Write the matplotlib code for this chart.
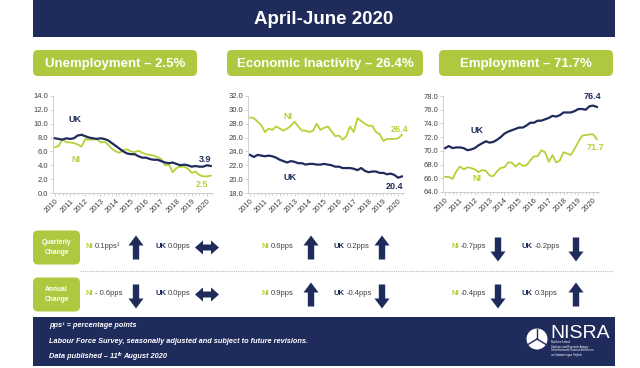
"""NISRA labour market infographic, April-June 2020."""

import matplotlib

matplotlib.use("Agg")
import matplotlib.pyplot as plt
from matplotlib.patches import FancyBboxPatch, Polygon, Rectangle, Circle

plt.rcParams["font.family"] = ["Liberation Sans", "DejaVu Sans"]

NAVY = "#1e2b5b"
GREEN = "#aec940"
LINE_GREEN = "#b4d236"
GREY = "#404040"

years = [str(y) for y in range(2010, 2021)]

unemp_uk = [7.9, 7.8, 7.7, 7.9, 7.8, 7.9, 8.3, 8.4, 8.2, 8.0, 7.9, 7.8,
            7.9, 7.8, 7.6, 7.2, 6.8, 6.4, 6.0, 5.7, 5.6, 5.6, 5.3, 5.1,
            5.1, 4.9, 4.8, 4.8, 4.6, 4.4, 4.3, 4.4, 4.2, 4.0, 4.1, 4.0,
            3.8, 3.9, 3.8, 3.8, 4.0, 3.9]
unemp_ni = [6.6, 6.8, 7.8, 7.3, 7.3, 7.2, 7.0, 6.7, 7.8, 7.7, 7.7, 7.8,
            7.3, 7.4, 7.0, 6.4, 6.0, 5.8, 6.2, 6.3, 6.0, 5.9, 6.1, 5.8,
            5.6, 5.5, 5.4, 5.2, 4.9, 4.0, 4.1, 3.0, 3.6, 3.8, 3.8, 3.5,
            2.9, 3.1, 2.6, 2.4, 2.4, 2.5]
inact_uk = [23.5, 23.2, 23.5, 23.4, 23.3, 23.4, 23.3, 23.1, 22.8, 22.6, 22.4, 22.6,
            22.5, 22.3, 22.3, 22.1, 22.2, 22.2, 22.1, 22.1, 22.2, 22.1, 22.0, 21.8,
            21.8, 21.6, 21.6, 21.6, 21.5, 21.3, 21.6, 21.2, 21.0, 21.1, 21.1, 20.9,
            20.9, 20.7, 20.8, 20.6, 20.2, 20.4]
inact_ni = [28.9, 28.8, 28.3, 27.8, 26.8, 27.3, 27.1, 27.6, 27.3, 27.0, 27.3, 27.7,
            28.3, 27.6, 27.0, 27.0, 26.8, 27.0, 28.0, 27.1, 27.4, 27.6, 26.9, 26.2,
            26.3, 25.7, 26.2, 27.6, 26.8, 28.8, 28.4, 28.0, 27.7, 27.7, 26.8, 26.5,
            25.5, 25.8, 25.8, 25.8, 25.9, 26.4]
emp_uk = [70.4, 70.7, 70.4, 70.5, 70.5, 70.4, 70.1, 70.2, 70.4, 70.8, 71.1, 71.4,
          71.2, 71.3, 71.6, 72.0, 72.5, 72.8, 73.0, 73.2, 73.4, 73.4, 73.7, 74.1,
          74.1, 74.4, 74.4, 74.6, 74.8, 75.1, 75.0, 75.2, 75.6, 75.6, 75.6, 75.8,
          76.1, 76.1, 76.0, 76.5, 76.6, 76.4]
emp_ni = [66.2, 66.2, 65.9, 67.0, 67.7, 67.3, 67.6, 67.5, 67.3, 66.9, 67.2, 67.1,
          66.4, 66.3, 67.0, 67.5, 67.6, 68.3, 68.3, 67.7, 68.2, 67.8, 67.9, 68.6,
          69.2, 69.2, 70.1, 69.8, 68.4, 69.4, 68.3, 68.6, 69.8, 69.6, 69.4, 70.3,
          71.3, 72.2, 72.3, 72.4, 72.4, 71.7]

headlines = ["Unemployment \u2013 2.5%", "Economic Inactivity \u2013 26.4%",
             "Employment \u2013 71.7%"]
quarterly_ni = [0.1, 0.6, -0.7]
quarterly_uk = [0.0, 0.2, -0.2]
annual_ni = [-0.6, 0.9, -0.4]
annual_uk = [0.0, -0.4, 0.3]
quarterly_ni_text = ["0.1pps\u00b9", "0.6pps", "-0.7pps"]
quarterly_uk_text = ["0.0pps", "0.2pps", "-0.2pps"]
annual_ni_text = ["- 0.6pps", "0.9pps", "-0.4pps"]
annual_uk_text = ["0.0pps", "-0.4pps", "0.3pps"]

W, H = 640, 368
fig = plt.figure(figsize=(W / 100, H / 100), dpi=100)
bg = fig.add_axes([0, 0, 1, 1])
bg.set_xlim(0, W)
bg.set_ylim(H, 0)
bg.axis("off")


def px_axes(left, top, right, bottom):
    return fig.add_axes([left / W, 1 - bottom / H, (right - left) / W, (bottom - top) / H])


def rbox(x0, y0, x1, y1, color, r=5):
    bg.add_patch(FancyBboxPatch((x0, y0), x1 - x0, y1 - y0,
                                boxstyle=f"round,pad=0,rounding_size={r}",
                                fc=color, ec="none"))


def arrow(cx, cy, value, size=24):
    """Block arrow centred on (cx, cy) in pixels, direction from the sign of value."""
    h = size / 2
    sw, hw, hl = 3.2, 7.5, 10
    if value > 0:
        pts = [(cx - sw, cy + h), (cx - sw, cy - h + hl), (cx - hw, cy - h + hl), (cx, cy - h),
               (cx + hw, cy - h + hl), (cx + sw, cy - h + hl), (cx + sw, cy + h)]
    elif value < 0:
        pts = [(cx - sw, cy - h), (cx - sw, cy + h - hl), (cx - hw, cy + h - hl), (cx, cy + h),
               (cx + hw, cy + h - hl), (cx + sw, cy + h - hl), (cx + sw, cy - h)]
    else:
        w, sh, hh, l = 12, 3.0, 7, 8
        pts = [(cx - w, cy), (cx - w + l, cy - hh), (cx - w + l, cy - sh), (cx + w - l, cy - sh),
               (cx + w - l, cy - hh), (cx + w, cy), (cx + w - l, cy + hh), (cx + w - l, cy + sh),
               (cx - w + l, cy + sh), (cx - w + l, cy + hh)]
    bg.add_patch(Polygon(pts, closed=True, fc=NAVY, ec="none"))


def pieces(x, y, parts, size=5.5):
    renderer = fig.canvas.get_renderer()
    for txt, color, weight in parts:
        t = bg.text(x, y, txt, color=color, fontsize=size, fontweight=weight,
                    ha="left", va="center")
        x += t.get_window_extent(renderer).width + 1.5
    return x


# title banner and headline boxes
bg.add_patch(Rectangle((33, 0), 582, 37, fc=NAVY, ec="none"))
bg.text(324, 19, "April-June 2020", color="white", fontsize=13.5, fontweight="bold",
        ha="center", va="center")
for (x0, x1), label in zip([(33, 197), (227, 423), (439, 613)], headlines):
    rbox(x0, 50, x1, 76, GREEN)
    bg.text((x0 + x1) / 2, 63.5, label, color="white", fontsize=9.5, fontweight="bold",
            ha="center", va="center")

# line charts
charts = [
    ((53, 96, 212.6, 193), unemp_uk, unemp_ni, (0, 14),
     [("UK", 5.3, 10.6, NAVY), ("NI", 5.6, 4.8, LINE_GREEN),
      ("3.9", 39.6, 4.8, NAVY), ("2.5", 38.8, 1.25, LINE_GREEN)]),
    ((248.3, 96, 403.7, 193), inact_uk, inact_ni, (18, 32),
     [("NI", 10.3, 29.1, LINE_GREEN), ("UK", 10.8, 20.2, NAVY),
      ("26.4", 40.3, 27.2, LINE_GREEN), ("20.4", 38.9, 19.0, NAVY)]),
    ((443.3, 96, 598.7, 192), emp_uk, emp_ni, (64, 78),
     [("UK", 8.5, 73.0, NAVY), ("NI", 8.5, 65.9, LINE_GREEN),
      ("76.4", 39.8, 77.9, NAVY), ("71.7", 40.7, 70.5, LINE_GREEN)]),
]
for box, uk, ni, (ylo, yhi), labels in charts:
    ax = px_axes(*box)
    x = list(range(len(uk)))
    ax.plot(x, ni, color=LINE_GREEN, lw=1.3, zorder=2)
    ax.plot(x, uk, color=NAVY, lw=1.6, zorder=3)
    ax.set_xlim(-0.5, len(uk) - 0.5)
    ax.set_ylim(ylo, yhi)
    ax.set_yticks(range(ylo, yhi + 1, 2))
    ax.set_yticklabels([f"{v:.1f}" for v in range(ylo, yhi + 1, 2)])
    ax.set_xticks(range(0, len(uk), 4))
    ax.set_xticklabels(years, rotation=45, ha="right", rotation_mode="anchor")
    ax.set_xticks(range(len(uk)), minor=True)
    ax.tick_params(axis="both", labelsize=5.5, colors="#bfbfbf", labelcolor=GREY,
                   length=2, width=0.5, pad=1.5)
    ax.tick_params(axis="x", which="minor", length=1.5, width=0.5, colors="#bfbfbf")
    for side in ("top", "right"):
        ax.spines[side].set_visible(False)
    for side in ("left", "bottom"):
        ax.spines[side].set_color("#c8c8c8")
        ax.spines[side].set_linewidth(0.6)
    ax.patch.set_alpha(0)
    for txt, lx, ly, col in labels:
        ax.text(lx, ly, txt, color=col, fontsize=6.5, fontweight="bold",
                ha="center", va="center")

# change rows
rows = [
    ("Quarterly\nChange", 247.5, quarterly_ni, quarterly_ni_text, quarterly_uk, quarterly_uk_text),
    ("Annual\nChange", 294.5, annual_ni, annual_ni_text, annual_uk, annual_uk_text),
]
ni_x = [86, 262, 452]
ni_arrow = [136, 311, 498]
uk_x = [155, 334, 522]
uk_arrow = [207, 382, 576]
for label, yc, ni_v, ni_t, uk_v, uk_t in rows:
    rbox(33, yc - 17, 80, yc + 17, GREEN, r=5)
    bg.text(56.5, yc, label, color="white", fontsize=4.8, fontweight="bold",
            ha="center", va="center", linespacing=1.6)
    for i in range(3):
        pieces(ni_x[i], yc - 1, [("NI", LINE_GREEN, "bold"), (ni_t[i], GREY, "normal")])
        arrow(ni_arrow[i], yc + (2 if ni_v[i] < 0 else 0), ni_v[i])
        pieces(uk_x[i], yc - 1, [("UK", NAVY, "bold"), (uk_t[i], GREY, "normal")])
        arrow(uk_arrow[i], yc + (2 if uk_v[i] < 0 else 0), uk_v[i])
bg.plot([80, 613], [270.5, 270.5], color="#bdbdbd", lw=0.8, ls=(0, (1, 1)))

# footer
bg.add_patch(Rectangle((33, 317), 582, 49, fc=NAVY, ec="none"))
foot_kw = dict(color="white", fontsize=5.3, fontweight="bold", style="italic",
               ha="left", va="center")
bg.text(49, 325.5, "pps\u00b9 = percentage points", **foot_kw)
bg.text(49, 341.5, "Labour Force Survey, seasonally adjusted and subject to future revisions.",
        **foot_kw)
end = pieces(49, 357, [], size=5.3)
t1 = bg.text(49, 357, "Data published \u2013 11", **foot_kw)
w1 = t1.get_window_extent(fig.canvas.get_renderer()).width
bg.text(49 + w1 + 0.3, 354.5, "th", **{**foot_kw, "fontsize": 3.5})
bg.text(49 + w1 + 5.5, 357, "August 2020", **foot_kw)

# NISRA logo
bg.add_patch(Circle((537, 339), 10.5, fc="white", ec="none"))
for dx, dy in [(0, -10.5), (-9, 5.5), (9, 5.5)]:
    bg.plot([537, 537 + dx], [339, 339 + dy], color=NAVY, lw=1.0)
bg.text(550, 333, "NISRA", color="white", fontsize=14, ha="left", va="center")
bg.text(551, 344.5, "Northern Ireland\nStatistics and Research Agency", color="white",
        fontsize=1.9, ha="left", va="center", linespacing=1.1)
bg.text(551, 352.5, "Gn\u00edomhaireacht Thuaisceart \u00c9ireann\num Staitistic\u00ed agus Taighde",
        color="white", fontsize=1.9, ha="left", va="center", linespacing=1.1)

fig.savefig("out.png", dpi=100, facecolor="white")
